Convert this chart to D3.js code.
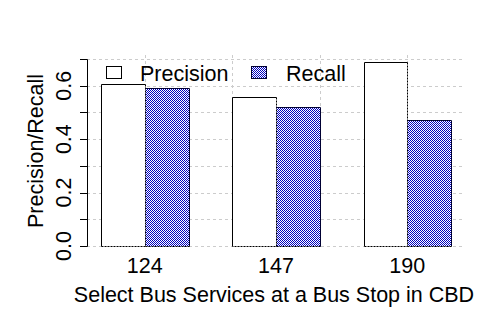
<!DOCTYPE html>
<html>
<head>
<meta charset="utf-8">
<script src="https://cdn.jsdelivr.net/npm/d3@7"></script>
<style>
  body { margin: 0; background: #fff; }
  svg text { font-family: "Liberation Sans", Arial, sans-serif; fill: #000; }
</style>
</head>
<body>
<div id="chart"></div>
<script>
var categories = ["124", "147", "190"];
var precision = [0.605, 0.556, 0.687];
var recall = [0.59, 0.519, 0.47];
var yTicks = [0, 0.2, 0.4, 0.6];
var yMinor = [0, 0.1, 0.2, 0.3, 0.4, 0.5, 0.6, 0.7];

var width = 480, height = 320;
var fontSize = "21.5px";

var svg = d3.select("#chart").append("svg")
    .attr("width", width)
    .attr("height", height);

// barplot coordinates: each bar is 1 unit wide, 1 unit space before each group
var x = d3.scaleLinear().domain([0.68, 9.32]).range([87, 465]);
var y = d3.scaleLinear().domain([0, 0.715]).range([246, 55]);

var defs = svg.append("defs");
var checker = defs.append("pattern")
    .attr("id", "checker")
    .attr("patternUnits", "userSpaceOnUse")
    .attr("width", 2).attr("height", 2);
checker.append("rect").attr("width", 2).attr("height", 2).attr("fill", "#fff");
checker.append("rect").attr("width", 1).attr("height", 1).attr("fill", "#0000c0");
checker.append("rect").attr("x", 1).attr("y", 1).attr("width", 1).attr("height", 1).attr("fill", "#0000c0");

var hatch = defs.append("pattern")
    .attr("id", "hatch")
    .attr("patternUnits", "userSpaceOnUse")
    .attr("width", 44).attr("height", 44);
hatch.append("rect").attr("width", 44).attr("height", 44).attr("fill", "url(#checker)");
hatch.append("line")
    .attr("x1", 0).attr("y1", 44).attr("x2", 44).attr("y2", 0)
    .attr("stroke", "#fff").attr("stroke-width", 1).attr("opacity", 0.8);

// grid
var grid = svg.append("g").attr("class", "grid");
grid.selectAll(".hgrid")
    .data(yMinor)
  .enter().append("line")
    .attr("x1", x.range()[0]).attr("x2", x.range()[1])
    .attr("y1", function(d) { return Math.round(y(d)) + 0.5; })
    .attr("y2", function(d) { return Math.round(y(d)) + 0.5; })
    .attr("stroke", "#cccccc")
    .attr("stroke-dasharray", "3,3");
grid.selectAll(".vgrid")
    .data([2, 4, 6, 8])
  .enter().append("line")
    .attr("x1", function(d) { return Math.round(x(d)) + 0.5; })
    .attr("x2", function(d) { return Math.round(x(d)) + 0.5; })
    .attr("y1", y.range()[1]).attr("y2", y.range()[0])
    .attr("stroke", "#cccccc")
    .attr("stroke-dasharray", "3,3");

// bars
var data = categories.map(function(c, i) {
  return {cat: c, p: precision[i], r: recall[i], x0: 1 + i * 3};
});

var bars = svg.append("g").attr("class", "bars");
function px(v) { return Math.round(v) + 0.5; }

data.forEach(function(d) {
  var l = px(x(d.x0)), m = px(x(d.x0 + 1)), r = px(x(d.x0 + 2));
  var b = px(y(0)), tp = px(y(d.p)), tr = px(y(d.r));

  bars.append("rect")
      .attr("x", l).attr("y", tp)
      .attr("width", m - l).attr("height", b - tp)
      .attr("fill", "#fff");
  bars.append("rect")
      .attr("x", m).attr("y", tr)
      .attr("width", r - m).attr("height", b - tr)
      .attr("fill", "url(#hatch)");

  // precision outline: solid top/left, dotted right/bottom
  bars.append("path")
      .attr("d", "M" + l + "," + b + "V" + tp + "H" + m)
      .attr("fill", "none").attr("stroke", "#000");
  bars.append("path")
      .attr("d", "M" + m + "," + tp + "V" + b + "H" + l)
      .attr("fill", "none").attr("stroke", "#000").attr("stroke-dasharray", "2,1");
  // recall outline
  bars.append("path")
      .attr("d", "M" + m + "," + tr + "H" + r + "V" + b)
      .attr("fill", "none").attr("stroke", "#000033");
  bars.append("path")
      .attr("d", "M" + r + "," + b + "H" + m)
      .attr("fill", "none").attr("stroke", "#000").attr("stroke-dasharray", "2,1");
});

// y axis
var yAxis = svg.append("g").attr("class", "y axis");
yAxis.append("line")
    .attr("x1", 87.5).attr("x2", 87.5)
    .attr("y1", px(y(0.7))).attr("y2", px(y(0)))
    .attr("stroke", "#000");
yAxis.selectAll(".tick")
    .data(yMinor)
  .enter().append("line")
    .attr("x1", 80).attr("x2", 87.5)
    .attr("y1", function(d) { return px(y(d)); })
    .attr("y2", function(d) { return px(y(d)); })
    .attr("stroke", "#000");
yAxis.selectAll(".lab")
    .data(yTicks)
  .enter().append("text")
    .attr("transform", function(d) { return "translate(71," + y(d) + ") rotate(-90)"; })
    .attr("text-anchor", "middle")
    .attr("font-size", fontSize)
    .text(function(d) { return d3.format(".1f")(d); });

svg.append("text")
    .attr("transform", "translate(43,151) rotate(-90)")
    .attr("text-anchor", "middle")
    .attr("font-size", fontSize)
    .text("Precision/Recall");

// x labels
svg.selectAll(".xlab")
    .data(data)
  .enter().append("text")
    .attr("x", function(d) { return x(d.x0 + 1); })
    .attr("y", 273)
    .attr("text-anchor", "middle")
    .attr("font-size", fontSize)
    .text(function(d) { return d.cat; });

svg.append("text")
    .attr("x", 274)
    .attr("y", 302)
    .attr("text-anchor", "middle")
    .attr("font-size", fontSize)
    .text("Select Bus Services at a Bus Stop in CBD");

// legend
var legend = svg.append("g").attr("class", "legend");
legend.append("rect")
    .attr("x", 106.5).attr("y", 66.5).attr("width", 15).attr("height", 12)
    .attr("fill", "#fff").attr("stroke", "#000");
legend.append("text")
    .attr("x", 140).attr("y", 81)
    .attr("font-size", fontSize)
    .text("Precision");
legend.append("rect")
    .attr("x", 251.5).attr("y", 66.5).attr("width", 15).attr("height", 12)
    .attr("fill", "url(#hatch)").attr("stroke", "#000033");
legend.append("text")
    .attr("x", 286).attr("y", 81)
    .attr("font-size", fontSize)
    .text("Recall");
</script>
</body>
</html>
